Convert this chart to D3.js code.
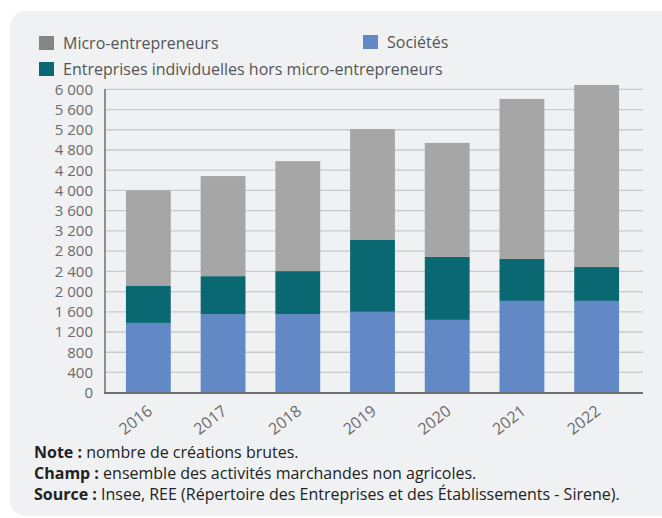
<!DOCTYPE html>
<html>
<head>
<meta charset="utf-8">
<script src="https://cdn.jsdelivr.net/npm/d3@7.9.0/dist/d3.min.js"></script>
<style>
  body { margin: 0; background: #ffffff; }
  svg { display: block; font-family: "Open Sans", sans-serif; }
</style>
</head>
<body>
<div id="chart"></div>
<script>
const years = ["2016", "2017", "2018", "2019", "2020", "2021", "2022"];
const societes = [1380, 1555, 1555, 1600, 1440, 1815, 1815];
const individuelles = [730, 750, 850, 1420, 1245, 830, 670];
const micro = [1890, 1980, 2175, 2195, 2255, 3165, 3600];

const yTicks = [0, 400, 800, 1200, 1600, 2000, 2400, 2800, 3200, 3600, 4000, 4400, 4800, 5200, 5600, 6000];
// labels as printed on the original (note the "4 200" at the 4 400 position)
const yTickLabels = ["0", "400", "800", "1 200", "1 600", "2 000", "2 400", "2 800", "3 200", "3 600", "4 000", "4 200", "4 800", "5 200", "5 600", "6 000"];

const seriesKeys = ["societes", "individuelles", "micro"];
const seriesColors = { societes: "#6289c6", individuelles: "#0a6873", micro: "#a6a6a6" };

const width = 662, height = 518;

const svg = d3.select("#chart")
  .append("svg")
  .attr("width", width)
  .attr("height", height);

// card background
svg.append("rect")
  .attr("x", 10).attr("y", 11)
  .attr("width", 700).attr("height", 505)
  .attr("rx", 16)
  .attr("fill", "#f0f1f3");

const rows = years.map((y, i) => ({
  year: y,
  societes: societes[i],
  individuelles: individuelles[i],
  micro: micro[i]
}));

const stacked = d3.stack().keys(seriesKeys)(rows);

const x = d3.scaleBand()
  .domain(years)
  .range([111, 634])
  .paddingInner(0.4)
  .paddingOuter(0.2);

const y = d3.scaleLinear()
  .domain([0, 6000])
  .range([392.7, 89.3]);

const axisLeft = 105, axisRight = 643;

// gridlines
svg.append("g")
  .selectAll("line")
  .data(yTicks.filter(d => d > 0))
  .join("line")
  .attr("x1", axisLeft)
  .attr("x2", axisRight)
  .attr("y1", d => y(d))
  .attr("y2", d => y(d))
  .attr("stroke", "#c9cacd")
  .attr("stroke-width", 1.3);

// y axis labels
const yAxis = d3.axisLeft(y)
  .tickValues(yTicks)
  .tickSize(0)
  .tickPadding(12)
  .tickFormat((d, i) => yTickLabels[i]);

svg.append("g")
  .attr("transform", `translate(${axisLeft},0)`)
  .call(yAxis)
  .call(g => g.select(".domain").remove())
  .call(g => g.selectAll("text")
    .attr("fill", "#6b6b6b")
    .style("font-size", "15px")
    .style("font-family", "'Open Sans', sans-serif"));

// bars
svg.append("g")
  .selectAll("g")
  .data(stacked)
  .join("g")
  .attr("fill", d => seriesColors[d.key])
  .selectAll("rect")
  .data(d => d)
  .join("rect")
  .attr("x", d => x(d.data.year))
  .attr("width", x.bandwidth())
  .attr("y", d => y(d[1]))
  .attr("height", d => y(d[0]) - y(d[1]));

// axis lines
svg.append("line")
  .attr("x1", axisLeft).attr("x2", axisLeft)
  .attr("y1", 89).attr("y2", 393)
  .attr("stroke", "#6e6e70")
  .attr("stroke-width", 1.5);

svg.append("line")
  .attr("x1", axisLeft - 1).attr("x2", axisRight)
  .attr("y1", 393).attr("y2", 393)
  .attr("stroke", "#6e6e70")
  .attr("stroke-width", 2.2);

// x labels
const xAxis = d3.axisBottom(x).tickSize(0).tickPadding(0);
svg.append("g")
  .attr("transform", "translate(0,393)")
  .call(xAxis)
  .call(g => g.select(".domain").remove())
  .call(g => g.selectAll("text")
    .attr("fill", "#6b6b6b")
    .style("font-size", "16px")
    .style("font-family", "'Open Sans', sans-serif")
    .attr("text-anchor", "end")
    .attr("dy", null)
    .attr("y", 0)
    .attr("transform", "translate(5,20) rotate(-38)"));

// legend
const legendItems = [
  { label: "Micro-entrepreneurs", color: "#858585", x: 39, y: 36 },
  { label: "Sociétés", color: "#6289c6", x: 363, y: 35 },
  { label: "Entreprises individuelles hors micro-entrepreneurs", color: "#0a6873", x: 39, y: 62 }
];

const legend = svg.append("g")
  .selectAll("g")
  .data(legendItems)
  .join("g")
  .attr("transform", d => `translate(${d.x},${d.y})`);

legend.append("rect")
  .attr("width", 15).attr("height", 14)
  .attr("fill", d => d.color);

legend.append("text")
  .attr("x", 24)
  .attr("y", 13)
  .attr("fill", "#555555")
  .style("font-size", "16px")
  .text(d => d.label);

// notes
const notes = [
  { bold: "Note :", text: " nombre de créations brutes." },
  { bold: "Champ :", text: " ensemble des activités marchandes non agricoles." },
  { bold: "Source :", text: " Insee, REE (Répertoire des Entreprises et des Établissements - Sirene)." }
];

const noteText = svg.append("g")
  .selectAll("text")
  .data(notes)
  .join("text")
  .attr("x", 34)
  .attr("y", (d, i) => 458 + i * 21)
  .attr("fill", "#222222")
  .style("font-size", "16px");

noteText.append("tspan")
  .style("font-weight", "bold")
  .text(d => d.bold);

noteText.append("tspan")
  .text(d => d.text);
</script>
</body>
</html>
